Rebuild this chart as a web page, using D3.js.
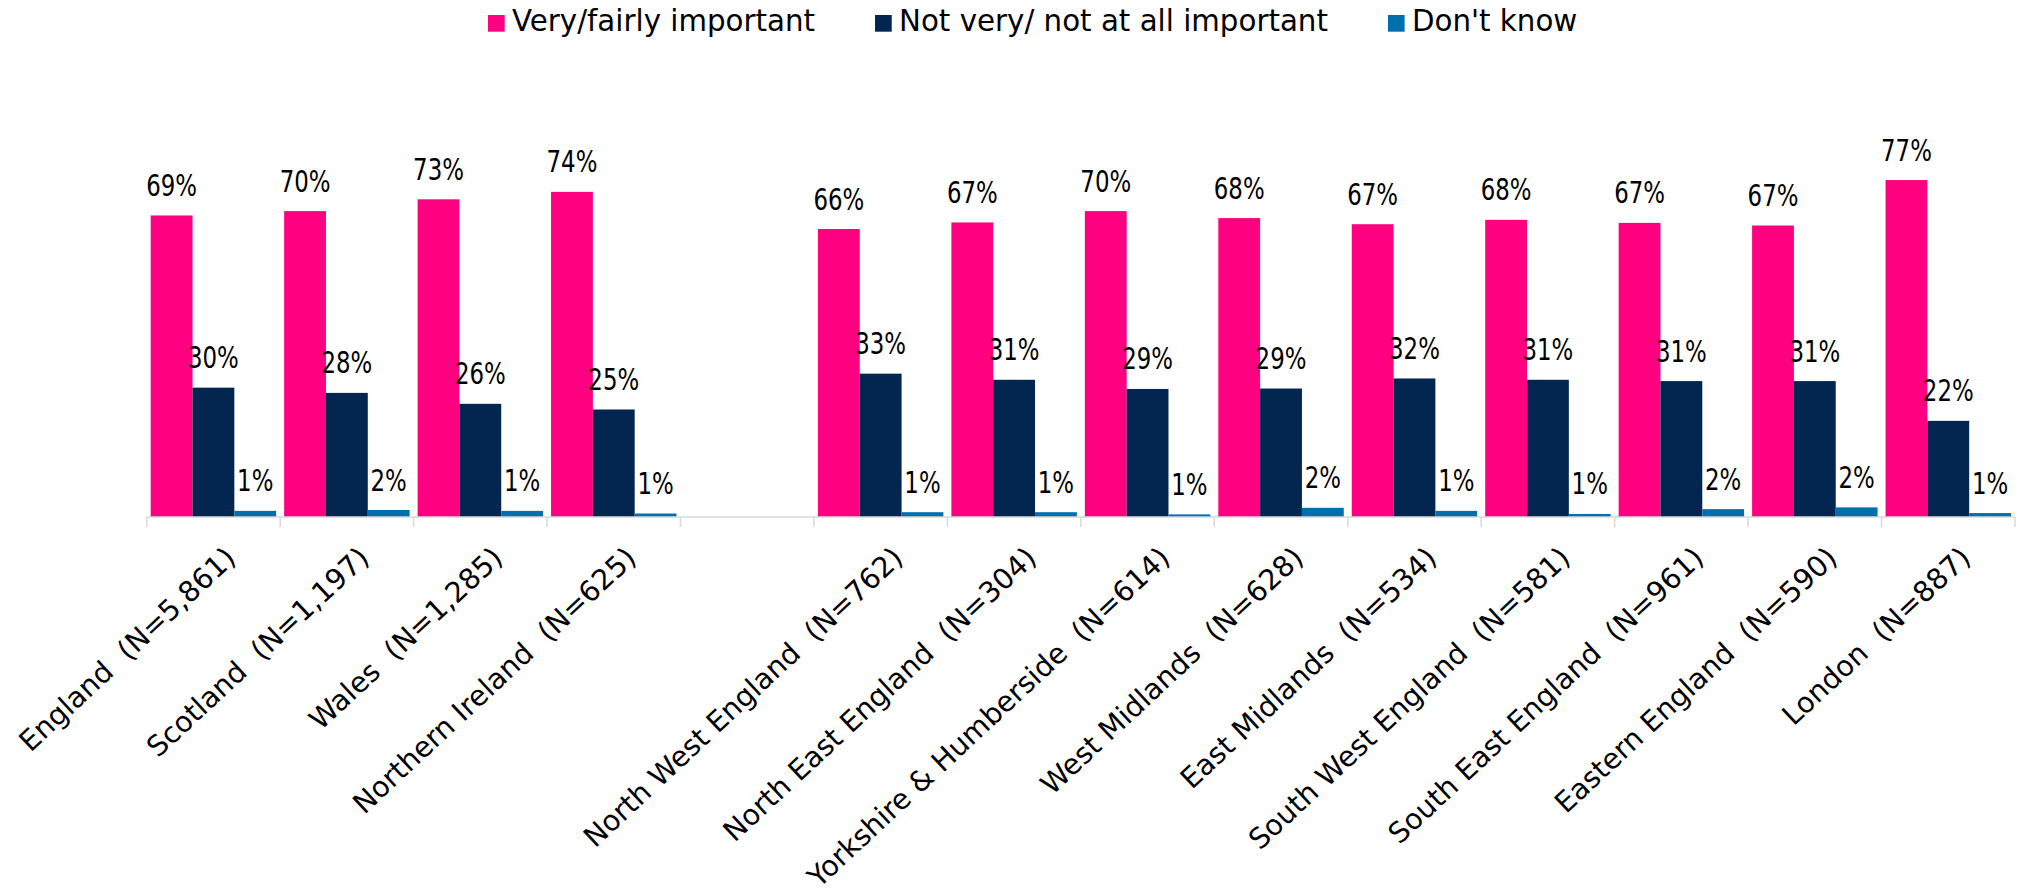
<!DOCTYPE html>
<html>
<head>
<meta charset="utf-8">
<script src="https://cdn.jsdelivr.net/npm/d3@7"></script>
<style>
  body { margin: 0; background: #fff; }
  svg { display: block; }
</style>
</head>
<body>
<svg id="chart" width="2022" height="891"></svg>
<script>
// categorias (a vazia e o espaço entre nações e regiões)
var categories = ["England  (N=5,861)", "Scotland  (N=1,197)", "Wales  (N=1,285)", "Northern Ireland  (N=625)", "",
	"North West England  (N=762)", "North East England  (N=304)", "Yorkshire & Humberside  (N=614)", "West Midlands  (N=628)",
	"East Midlands  (N=534)", "South West England  (N=581)", "South East England  (N=961)", "Eastern England  (N=590)", "London  (N=887)"];

var seriesNames = ["Very/fairly important", "Not very/ not at all important", "Don't know"];
var seriesColors = ["#ff0080", "#022650", "#0070ad"];

var important    = [69.0, 70.0, 72.7, 74.4, null, 65.9, 67.4, 70.0, 68.4, 67.0, 68.0, 67.3, 66.7, 77.1];
var notImportant = [29.6, 28.4, 25.9, 24.6, null, 32.8, 31.4, 29.3, 29.4, 31.7, 31.4, 31.1, 31.1, 22.0];
var dontKnow     = [1.4, 1.6, 1.4, 0.8, null, 1.1, 1.1, 0.6, 2.1, 1.4, 0.7, 1.8, 2.2, 0.9];

var seriesValues = [important, notImportant, dontKnow];

var svg = d3.select("#chart");

var plot = {left: 146.7, right: 2015, top: 80, bottom: 517};

// escalas
var xScale = d3.scaleBand()
	.domain(d3.range(categories.length))
	.range([plot.left, plot.right])
	.padding(0);

var xInner = d3.scaleBand()
	.domain(d3.range(seriesNames.length))
	.range([4, xScale.bandwidth() - 4])
	.padding(0);

var yScale = d3.scaleLinear()
	.domain([0, 100])
	.range([plot.bottom, plot.top]);

var fmt = function(v) { return d3.format(".0f")(v) + "%"; };

// barras
var groups = svg.append("g").selectAll("g")
	.data(categories)
	.enter()
	.append("g")
	.attr("transform", function(d, i) { return "translate(" + xScale(i) + ",0)"; });

groups.each(function(cat, i) {
	var g = d3.select(this);
	seriesValues.forEach(function(vals, s) {
		var v = vals[i];
		if (v == null) return;
		g.append("rect")
			.attr("x", xInner(s))
			.attr("y", yScale(v))
			.attr("width", xInner.bandwidth())
			.attr("height", yScale(0) - yScale(v))
			.style("fill", seriesColors[s]);
	});
});

// rótulos de valor
groups.each(function(cat, i) {
	var g = d3.select(this);
	seriesValues.forEach(function(vals, s) {
		var v = vals[i];
		if (v == null) return;
		var t = g.append("text")
			.attr("x", xInner(s) + xInner.bandwidth() / 2)
			.attr("y", yScale(v) - 19.5)
			.attr("text-anchor", "middle")
			.style("font-family", "'DejaVu Sans', sans-serif")
			.style("font-size", "30.5px")
			.style("fill", "#000")
			.text(fmt(v));
		var w = t.node().getComputedTextLength();
		t.attr("textLength", w * 0.75).attr("lengthAdjust", "spacingAndGlyphs");
	});
});

// eixo x
var axis = svg.append("g");
axis.append("line")
	.attr("x1", plot.left).attr("x2", plot.right)
	.attr("y1", plot.bottom).attr("y2", plot.bottom)
	.style("stroke", "#d9d9d9").style("stroke-width", 1.5);

var tickPos = d3.range(categories.length).map(function(i) { return xScale(i); }).concat([plot.right]);
axis.selectAll(".tick")
	.data(tickPos)
	.enter()
	.append("line")
	.attr("x1", function(d) { return d; }).attr("x2", function(d) { return d; })
	.attr("y1", plot.bottom).attr("y2", plot.bottom + 10)
	.style("stroke", "#d9d9d9").style("stroke-width", 1.5);

axis.selectAll(".lbl")
	.data(categories)
	.enter()
	.append("text")
	.attr("transform", function(d, i) {
		var cx = xScale(i) + xScale.bandwidth() / 2 + 24;
		return "translate(" + cx + "," + (plot.bottom + 43) + ") rotate(-43)";
	})
	.attr("text-anchor", "end")
	.style("font-family", "'DejaVu Sans', sans-serif")
	.style("font-size", "28.5px")
	.style("white-space", "pre")
	.style("fill", "#000")
	.text(function(d) { return d; });

// legenda
var legend = svg.append("g");
var lx = 488;
seriesNames.forEach(function(name, s) {
	legend.append("rect")
		.attr("x", lx).attr("y", 15)
		.attr("width", 16.7).attr("height", 16.7)
		.style("fill", seriesColors[s]);
	var t = legend.append("text")
		.attr("x", lx + 24)
		.attr("y", 30.7)
		.style("font-family", "'DejaVu Sans', sans-serif")
		.style("font-size", "29.3px")
		.style("white-space", "pre")
		.style("fill", "#000")
		.text(name);
	lx += 24 + t.node().getComputedTextLength() + 60;
});
</script>
</body>
</html>
